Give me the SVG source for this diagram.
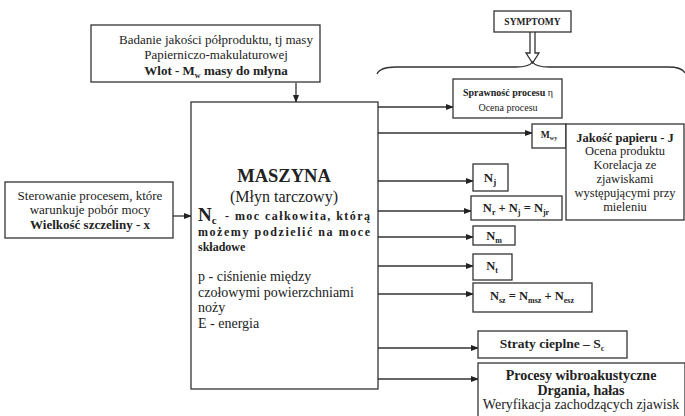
<svg xmlns="http://www.w3.org/2000/svg" width="685" height="416" viewBox="0 0 685 416" font-family="'Liberation Serif', 'Times New Roman', Times, serif">
<defs>
<marker id="ah" markerWidth="8" markerHeight="6" refX="7" refY="3" orient="auto" markerUnits="userSpaceOnUse">
<path d="M0,0 L8,3 L0,6 Z" fill="#222"/>
</marker>
<style>
.box{fill:#fff;stroke:#333;stroke-width:1.3}
.ln{fill:none;stroke:#333;stroke-width:1.3;marker-end:url(#ah)}
.plain{fill:none;stroke:#333;stroke-width:1.3}
text{fill:#222}
.b{font-weight:bold}
.c{text-anchor:middle}
</style>
</defs>
<rect width="685" height="416" fill="#fff"/>

<g id="connectors">
<line class="ln" x1="296" y1="83" x2="296" y2="102"/>
<line class="ln" x1="173" y1="216" x2="191" y2="216"/>
<line class="ln" x1="378" y1="107" x2="453" y2="107"/>
<line class="ln" x1="378" y1="133" x2="532" y2="133"/>
<line class="ln" x1="378" y1="181" x2="473" y2="181"/>
<line class="ln" x1="378" y1="211" x2="471" y2="211"/>
<line class="ln" x1="378" y1="237" x2="473" y2="237"/>
<line class="ln" x1="378" y1="266" x2="473" y2="266"/>
<line class="ln" x1="378" y1="294" x2="473" y2="294"/>
<line class="ln" x1="378" y1="348" x2="478" y2="348"/>
<line class="ln" x1="378" y1="379" x2="478" y2="379"/>
<path class="box" d="M530,32 V53 H526 L532.5,63 L539,53 H535 V32"/>
<path class="plain" d="M377,74 Q380,67 396,67 L516,67 Q529,67 532.5,62 Q536,67 549,67 L668,67 Q682,67 685,73"/>
</g>

<g id="top">
<rect class="box" x="91" y="25" width="229" height="57"/>
<text class="c" x="216" y="44" font-size="13">Badanie jakości półproduktu, tj masy</text>
<text class="c" x="216" y="59" font-size="13">Papierniczo-makulaturowej</text>
<text class="c b" x="216" y="75" font-size="13">Wlot - M<tspan font-size="8" dy="3">w</tspan><tspan dy="-3"> masy do młyna</tspan></text>
</g>

<g id="left">
<rect class="box" x="5" y="182" width="168" height="56"/>
<text class="c" x="90" y="200" font-size="13">Sterowanie procesem, które</text>
<text class="c" x="90" y="214" font-size="13">warunkuje pobór mocy</text>
<text class="c b" x="90" y="229" font-size="13">Wielkość szczeliny - x</text>
</g>

<g id="maszyna">
<rect class="box" x="191" y="102" width="187" height="287"/>
<text class="c b" x="284" y="182" font-size="18.5">MASZYNA</text>
<text class="c" x="284" y="202" font-size="16">(Młyn tarczowy)</text>
<text class="b" x="198" y="221" font-size="19">N<tspan font-size="11" dy="3">c</tspan></text>
<text class="b" x="225" y="220" font-size="12" textLength="145" lengthAdjust="spacing">- moc całkowita, którą</text>
<text class="b" x="198" y="236" font-size="12" textLength="172" lengthAdjust="spacing">możemy podzielić na moce</text>
<text class="b" x="198" y="251" font-size="12">składowe</text>
<text x="198" y="281" font-size="14">p - ciśnienie między</text>
<text x="198" y="297" font-size="14">czołowymi powierzchniami</text>
<text x="198" y="312" font-size="14">noży</text>
<text x="198" y="328" font-size="14">E - energia</text>
</g>

<g id="symptomy">
<rect class="box" x="494" y="11" width="77" height="21"/>
<text class="c b" x="532.5" y="25" font-size="9.5">SYMPTOMY</text>
</g>

<g id="sprawnosc">
<rect class="box" x="453" y="79" width="109" height="39"/>
<text class="c" x="508" y="96" font-size="10"><tspan class="b">Sprawność procesu</tspan> η</text>
<text class="c" x="508" y="111" font-size="10">Ocena procesu</text>
</g>

<g id="mwy">
<rect class="box" x="532" y="124" width="34" height="24"/>
<text class="c b" x="549" y="138" font-size="9.5">M<tspan font-size="6" dy="2">wy</tspan></text>
</g>

<g id="jakosc">
<rect class="box" x="566" y="124" width="118" height="96"/>
<text class="c b" x="625" y="142" font-size="12.5">Jakość papieru - J</text>
<text class="c" x="625" y="155" font-size="12.5">Ocena produktu</text>
<text class="c" x="625" y="169" font-size="12.5">Korelacja ze</text>
<text class="c" x="625" y="183" font-size="12.5">zjawiskami</text>
<text class="c" x="625" y="197" font-size="12.5">występującymi przy</text>
<text class="c" x="625" y="211" font-size="12.5">mieleniu</text>
</g>

<g id="nj">
<rect class="box" x="473" y="164" width="35" height="27"/>
<text class="c b" x="490" y="182" font-size="13">N<tspan font-size="9" dy="3">j</tspan></text>
</g>

<g id="nrj">
<rect class="box" x="471" y="196" width="91" height="24"/>
<text class="c b" x="516" y="212" font-size="12.5">N<tspan font-size="8" dy="3">r</tspan><tspan dy="-3"> + N</tspan><tspan font-size="8" dy="3">j</tspan><tspan dy="-3"> = N</tspan><tspan font-size="8" dy="3">jr</tspan></text>
</g>

<g id="nm">
<rect class="box" x="473" y="226" width="42" height="19"/>
<text class="c b" x="494" y="240" font-size="12.5">N<tspan font-size="8" dy="3">m</tspan></text>
</g>

<g id="nt">
<rect class="box" x="473" y="254" width="39" height="26"/>
<text class="c b" x="492" y="270" font-size="12.5">N<tspan font-size="8" dy="3">t</tspan></text>
</g>

<g id="nsz">
<rect class="box" x="473" y="283" width="119" height="29"/>
<text class="c b" x="532" y="300" font-size="12.5">N<tspan font-size="8" dy="3">sz</tspan><tspan dy="-3"> = N</tspan><tspan font-size="8" dy="3">msz</tspan><tspan dy="-3"> + N</tspan><tspan font-size="8" dy="3">esz</tspan></text>
</g>

<g id="straty">
<rect class="box" x="478" y="331" width="149" height="27"/>
<text class="c b" x="552" y="348" font-size="13.5">Straty cieplne – S<tspan font-size="8" dy="3">c</tspan></text>
</g>

<g id="procesy">
<rect class="box" x="478" y="363" width="207" height="60"/>
<text class="c b" x="581" y="380" font-size="14">Procesy wibroakustyczne</text>
<text class="c b" x="581" y="395" font-size="14">Drgania, hałas</text>
<text class="c" x="581" y="409" font-size="14">Weryfikacja zachodzących zjawisk</text>
</g>
</svg>
